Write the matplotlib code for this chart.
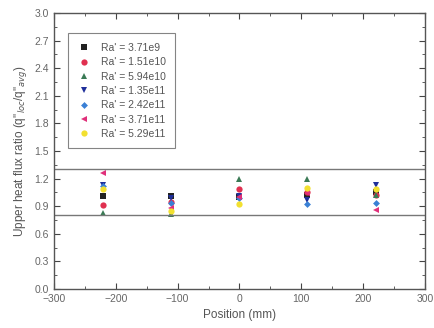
import matplotlib
matplotlib.use("Agg")
import matplotlib.pyplot as plt
from matplotlib.ticker import MultipleLocator

plt.rcParams['font.family'] = ['Liberation Sans', 'DejaVu Sans']

positions = [-220, -110, 0, 110, 220]
labels = ["Ra' = 3.71e9", "Ra' = 1.51e10", "Ra' = 5.94e10", "Ra' = 1.35e11",
          "Ra' = 2.42e11", "Ra' = 3.71e11", "Ra' = 5.29e11"]
ra_371e9 = [1.01, 1.01, 1.00, 1.02, 1.06]
ra_151e10 = [0.91, 0.95, 1.09, 1.06, 1.02]
ra_594e10 = [0.83, 0.82, 1.20, 1.20, 1.02]
ra_135e11 = [1.13, 0.99, 1.01, 0.97, 1.13]
ra_242e11 = [1.12, 0.94, 0.99, 0.92, 0.94]
ra_371e11 = [1.26, 0.88, 1.00, 1.04, 0.86]
ra_529e11 = [1.09, 0.85, 0.92, 1.10, 1.09]
series = [ra_371e9, ra_151e10, ra_594e10, ra_135e11, ra_242e11, ra_371e11, ra_529e11]
upper_limit = 1.3
lower_limit = 0.8

markers = ['s', 'o', '^', 'v', 'D', '<', 'o']
colors = ['#222222', '#e03050', '#3a7a55', '#1f2f9a', '#3a80d5', '#e0307a', '#f2e030']
sizes = [4, 4.5, 4.5, 4.5, 3.5, 4.5, 4.5]

fig = plt.figure(figsize=(4.35, 3.28), dpi=100)
ax = fig.add_axes([0.124, 0.119, 0.853, 0.841])

for vals, lab, m, c, s in zip(series, labels, markers, colors, sizes):
    ax.plot(positions, vals, linestyle='none', marker=m, color=c, markersize=s,
            markeredgewidth=0, label=lab)

ax.axhline(upper_limit, color='#777777', lw=1.0)
ax.axhline(lower_limit, color='#777777', lw=1.0)

ax.set_xlim(-300, 300)
ax.set_ylim(0, 3.0)
ax.xaxis.set_major_locator(MultipleLocator(100))
ax.xaxis.set_minor_locator(MultipleLocator(50))
ax.yaxis.set_major_locator(MultipleLocator(0.3))
ax.yaxis.set_minor_locator(MultipleLocator(0.15))
ax.yaxis.set_major_formatter(matplotlib.ticker.FormatStrFormatter('%.1f'))
ax.tick_params(which='both', direction='in', top=True, right=True, colors='#444444',
               labelcolor='#666666', labelsize=7.5)
ax.tick_params(which='major', length=4)
ax.tick_params(which='minor', length=2)
for sp in ax.spines.values():
    sp.set_color('#555555')
    sp.set_linewidth(1.0)

ax.set_xlabel('Position (mm)', fontsize=8.5, color='#555555')
ax.set_ylabel("Upper heat flux ratio (q''$_{loc}$/q''$_{avg}$)", fontsize=8.5, color='#555555')

leg = ax.legend(loc='upper left', bbox_to_anchor=(0.025, 0.945), fontsize=7.5,
                frameon=True, fancybox=False, handletextpad=1.0, labelspacing=0.42,
                borderpad=0.9, handlelength=1.2)
leg.get_frame().set_edgecolor('#666666')
leg.get_frame().set_linewidth(0.8)
for t in leg.get_texts():
    t.set_color('#555555')

fig.savefig('out.png', dpi=100)
